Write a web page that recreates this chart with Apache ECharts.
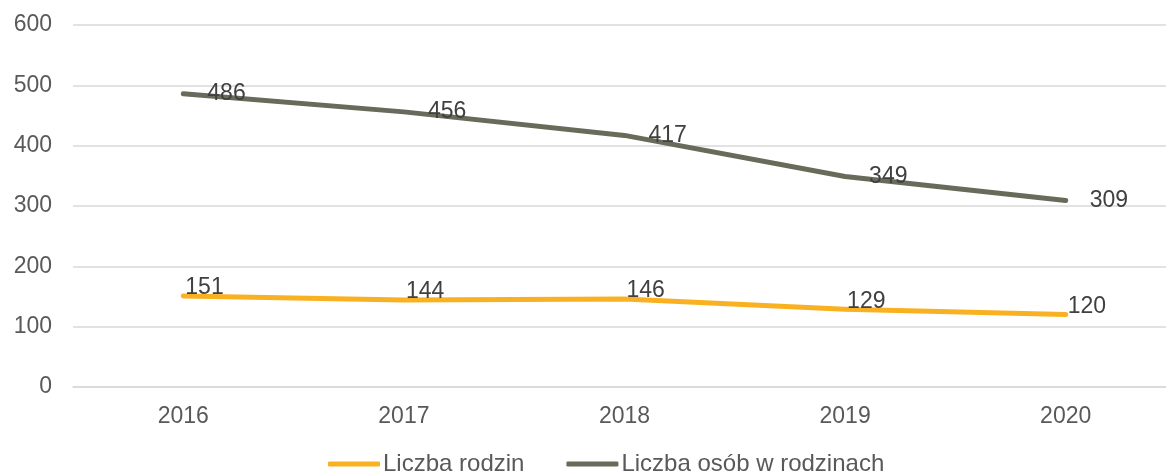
<!DOCTYPE html>
<html>
<head>
<meta charset="utf-8">
<script src="https://cdn.jsdelivr.net/npm/echarts@6/dist/echarts.min.js"></script>
<style>
  html, body { margin: 0; padding: 0; background: #fff; }
  #main { width: 1166px; height: 476px; }
</style>
</head>
<body>
<div id="main"></div>
<script>
// data
var years = ['2016', '2017', '2018', '2019', '2020'];
var rodziny = [151, 144, 146, 129, 120];
var osoby = [486, 456, 417, 349, 309];
var seriesNames = ['Liczba rodzin', 'Liczba osób w rodzinach'];

var font = 'Liberation Sans, Arial, sans-serif';

var myChart = echarts.init(document.getElementById('main'));
var option = {
    animation: false,
    textStyle: { fontFamily: font },
    grid: {
        left: 73,
        right: -10,
        top: 25,
        bottom: 89,
        outerBoundsMode: 'none'
    },
    legend: {
        data: seriesNames,
        left: 323,
        top: 447,
        icon: 'roundRect',
        itemWidth: 52,
        itemHeight: 5,
        itemGap: 42,
        textStyle: { fontSize: 24, color: '#595959', fontFamily: font, padding: [0, 0, 0, -2] }
    },
    xAxis: {
        type: 'category',
        data: years,
        boundaryGap: true,
        axisLine: { lineStyle: { color: '#D9D9D9', width: 1.5 } },
        axisTick: { show: false },
        axisLabel: { fontSize: 23, color: '#595959', margin: 18, fontFamily: font }
    },
    yAxis: {
        type: 'value',
        min: 0,
        max: 600,
        interval: 100,
        axisLine: { show: false },
        axisTick: { show: false },
        splitLine: { lineStyle: { color: '#D9D9D9', width: 1.5 } },
        axisLabel: { fontSize: 23, color: '#595959', margin: 21, fontFamily: font }
    },
    series: [
        {
            name: seriesNames[0],
            type: 'line',
            data: rodziny,
            color: '#F9B122',
            symbol: 'circle',
            symbolSize: 2,
            lineStyle: { width: 5, cap: 'round', join: 'round' },
            emphasis: { disabled: true },
            label: {
                show: true,
                position: [3, -7],
                align: 'left',
                verticalAlign: 'middle',
                fontSize: 23,
                color: '#404040',
                fontFamily: font
            }
        },
        {
            name: seriesNames[1],
            type: 'line',
            data: osoby,
            color: '#676B59',
            symbol: 'circle',
            symbolSize: 2,
            lineStyle: { width: 5, cap: 'round', join: 'round' },
            emphasis: { disabled: true },
            label: {
                show: true,
                position: [25, 1],
                align: 'left',
                verticalAlign: 'middle',
                fontSize: 23,
                color: '#404040',
                fontFamily: font
            }
        }
    ]
};
myChart.setOption(option);
</script>
</body>
</html>
